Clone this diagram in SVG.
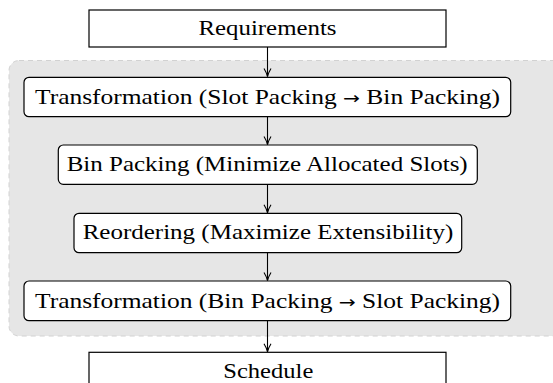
<svg xmlns="http://www.w3.org/2000/svg" width="553" height="383" viewBox="0 0 553 383">
<defs>
<style>
.bg{fill:#e6e6e6;stroke:#d2d2d2;stroke-width:1;stroke-dasharray:5 4}
.box{fill:#fff;stroke:#000;stroke-width:1.2}
.t{font-family:"Liberation Serif","DejaVu Serif",serif;font-size:21.5px;fill:#000;text-anchor:middle}
.ar{font-family:"DejaVu Sans","Liberation Serif",sans-serif;font-size:17px}
.c{stroke:#000;stroke-width:1.1;fill:none}
</style>
<marker id="ah" viewBox="0 0 10 10" refX="9" refY="5" markerWidth="10" markerHeight="10" markerUnits="userSpaceOnUse" orient="auto">
<path d="M1,1.5 Q5,4 9,5 Q5,6 1,8.5" fill="none" stroke="#000" stroke-width="1.1"/>
</marker>
</defs>
<rect class="bg" x="9" y="60.5" width="560" height="275.5" rx="10"/>
<g id="connectors">
<line class="c" x1="267.5" y1="47" x2="267.5" y2="76.5" marker-end="url(#ah)"/>
<line class="c" x1="267.5" y1="116.7" x2="267.5" y2="144.5" marker-end="url(#ah)"/>
<line class="c" x1="267.5" y1="184.3" x2="267.5" y2="212.8" marker-end="url(#ah)"/>
<line class="c" x1="267.5" y1="252.7" x2="267.5" y2="280.5" marker-end="url(#ah)"/>
<line class="c" x1="267.5" y1="320.7" x2="267.5" y2="351.8" marker-end="url(#ah)"/>
</g>
<g id="requirements">
<rect class="box" x="89" y="10" width="357" height="37"/>
<text class="t" x="267.5" y="35" textLength="138" lengthAdjust="spacingAndGlyphs">Requirements</text>
</g>
<g id="transform1">
<rect class="box" x="24" y="77.3" width="486.7" height="39.4" rx="5"/>
<text class="t" x="267.5" y="104" textLength="465" lengthAdjust="spacingAndGlyphs">Transformation (Slot Packing <tspan class="ar">→</tspan> Bin Packing)</text>
</g>
<g id="binpacking">
<rect class="box" x="58.3" y="145" width="419" height="39.3" rx="5"/>
<text class="t" x="267.2" y="171" textLength="401" lengthAdjust="spacingAndGlyphs">Bin Packing (Minimize Allocated Slots)</text>
</g>
<g id="reordering">
<rect class="box" x="74" y="213.3" width="387.7" height="39.4" rx="5"/>
<text class="t" x="268" y="239" textLength="370.7" lengthAdjust="spacingAndGlyphs">Reordering (Maximize Extensibility)</text>
</g>
<g id="transform2">
<rect class="box" x="24" y="281" width="486.7" height="39.7" rx="5"/>
<text class="t" x="267.5" y="308" textLength="465" lengthAdjust="spacingAndGlyphs">Transformation (Bin Packing <tspan class="ar">→</tspan> Slot Packing)</text>
</g>
<g id="schedule">
<rect class="box" x="89" y="352.3" width="357" height="40"/>
<text class="t" x="268.3" y="377.7" textLength="90" lengthAdjust="spacingAndGlyphs">Schedule</text>
</g>
</svg>
